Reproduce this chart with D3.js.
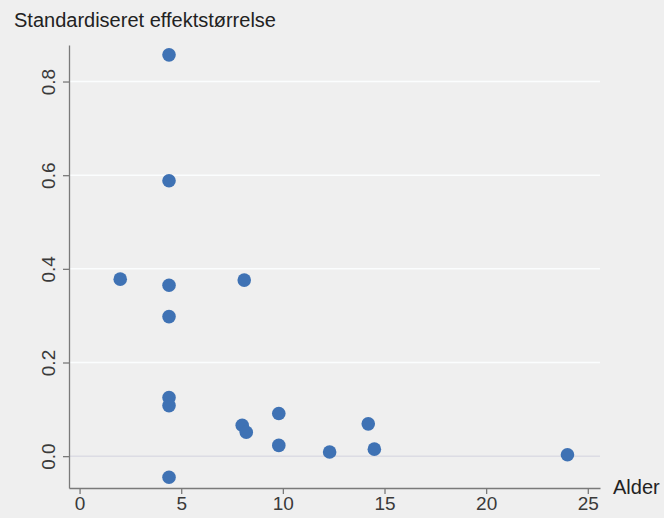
<!DOCTYPE html>
<html>
<head>
<meta charset="utf-8">
<script src="https://cdn.jsdelivr.net/npm/d3@7"></script>
<style>
  body { margin: 0; background: #efefef; }
  svg { display: block; font-family: "Liberation Sans", Arial, sans-serif; }
</style>
</head>
<body>
<div id="chart"></div>
<script>
// data
const alder = [4.4, 4.4, 2.0, 4.4, 8.1, 4.4, 4.4, 4.4, 4.4, 8.0, 8.2, 9.8, 9.8, 12.3, 14.2, 14.5, 24.0];
const effekt = [0.857, 0.588, 0.378, 0.365, 0.376, 0.298, 0.125, 0.108, -0.045, 0.066, 0.051, 0.091, 0.023, 0.009, 0.069, 0.015, 0.003];
const xTicks = [0, 5, 10, 15, 20, 25];
const yTicks = [0, 0.2, 0.4, 0.6, 0.8];

const width = 664, height = 518;
const plot = { left: 69, right: 600, top: 45, bottom: 488 };

const svg = d3.select("#chart").append("svg")
  .attr("width", width)
  .attr("height", height);

svg.append("rect").attr("width", width).attr("height", height).attr("fill", "#efefef");

// skalaer
const x = d3.scaleLinear().domain([-0.52, 25.6]).range([plot.left, plot.right]);
const y = d3.scaleLinear().domain([-0.068, 0.878]).range([plot.bottom, plot.top]);

// gitterlinjer
svg.append("g")
  .selectAll("line")
  .data(yTicks)
  .join("line")
  .attr("x1", plot.left)
  .attr("x2", plot.right)
  .attr("y1", (d) => y(d))
  .attr("y2", (d) => y(d))
  .attr("stroke", (d) => (d === 0 ? "#dcdce4" : "#fbfdfe"))
  .attr("stroke-width", 1.5);

// akser
const xAxis = svg.append("g")
  .attr("transform", `translate(0,${plot.bottom})`)
  .call(d3.axisBottom(x).tickValues(xTicks).tickFormat(d3.format("d")).tickSize(6).tickPadding(3).tickSizeOuter(0));

const yAxis = svg.append("g")
  .attr("transform", `translate(${plot.left},0)`)
  .call(d3.axisLeft(y).tickValues(yTicks).tickFormat(d3.format(".1f")).tickSize(6).tickSizeOuter(0));

[xAxis, yAxis].forEach((g) => {
  g.select(".domain").attr("stroke", "#7a7a7a").attr("stroke-width", 1.3);
  g.selectAll(".tick line").attr("stroke", "#7a7a7a").attr("stroke-width", 1.3);
  g.selectAll("text").attr("fill", "#3a3a3a").style("font-size", "19px");
});

yAxis.selectAll(".tick text")
  .attr("x", null)
  .attr("dy", null)
  .attr("text-anchor", "middle")
  .attr("transform", "translate(-14.5,0) rotate(-90)")
  .attr("dominant-baseline", "auto");

// punkter
svg.append("g")
  .selectAll("circle")
  .data(alder.map((a, i) => [a, effekt[i]]))
  .join("circle")
  .attr("cx", (d) => x(d[0]))
  .attr("cy", (d) => y(d[1]))
  .attr("r", 6.8)
  .attr("fill", "#3f72b4");

// titler
svg.append("text")
  .attr("x", 14)
  .attr("y", 27)
  .attr("fill", "#222")
  .style("font-size", "20px")
  .text("Standardiseret effektstørrelse");

svg.append("text")
  .attr("x", 613)
  .attr("y", 494)
  .attr("fill", "#222")
  .style("font-size", "20px")
  .text("Alder");
</script>
</body>
</html>
